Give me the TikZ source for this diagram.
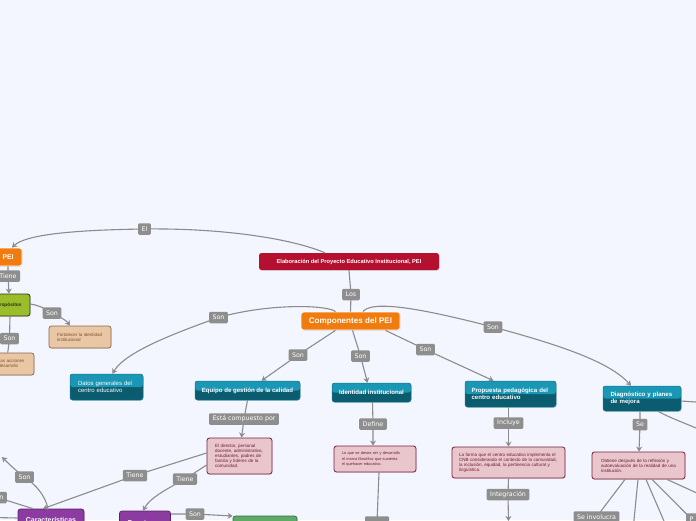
\documentclass[tikz,border=0pt]{standalone}
\usepackage{fontspec}
\setmainfont{Liberation Sans}
\newfontfamily\lblfont{DejaVu Sans}
\usetikzlibrary{arrows.meta,shadows}
\definecolor{bgc}{HTML}{F3F6FE}
\definecolor{lineg}{HTML}{8C8C8C}
\definecolor{lblg}{HTML}{8E8E8E}
\definecolor{rootc}{HTML}{B5102F}
\definecolor{orangec}{HTML}{F07B0E}
\definecolor{olivec}{HTML}{9BBD2C}
\definecolor{olived}{HTML}{2A3510}
\definecolor{tanf}{HTML}{E9C6A4}
\definecolor{tand}{HTML}{8B6A4C}
\definecolor{tant}{HTML}{7A5232}
\definecolor{tealtop}{HTML}{1A97B5}
\definecolor{tealbot}{HTML}{0B5C6F}
\definecolor{tealbd}{HTML}{127A92}
\definecolor{pinkf}{HTML}{E9C6CB}
\definecolor{pinkd}{HTML}{7A1D3B}
\definecolor{pinkt}{HTML}{6E1A36}
\definecolor{purplec}{HTML}{8C3CA0}
\definecolor{purpled}{HTML}{5A1E6B}
\definecolor{greenc}{HTML}{5FAA69}
\definecolor{greend}{HTML}{32703C}
\tikzset{
  conn/.style={draw=lineg, line width=1.1pt},
  arr/.style={-{Stealth[length=5pt,width=6pt]}},
  lbl/.style={fill=lblg, rounded corners=1.2pt, text=white, font=\lblfont\fontsize{6.3}{7}\selectfont, inner xsep=3.5pt, inner ysep=0pt, minimum height=11.5pt},
  box/.style={rounded corners=2.5pt, inner sep=0pt, drop shadow={shadow xshift=0.5pt, shadow yshift=-0.8pt, opacity=0.22}},
  tealb/.style={box, fill=tealbot, draw=tealbd, line width=0.5pt, text=white,
    font=\bfseries\fontsize{6.1}{7.4}\selectfont,
    path picture={\fill[tealtop] (path picture bounding box.north west) rectangle (path picture bounding box.east);}},
  pinkb/.style={box, fill=pinkf, draw=pinkd, line width=0.8pt, text=pinkt, align=left, font=\fontsize{4.5}{5.1}\selectfont},
  tanb/.style={box, fill=tanf, draw=tand, line width=0.7pt, text=tant, align=left, font=\fontsize{4.5}{5.1}\selectfont},
  orangeb/.style={box, fill=orangec, draw=white, line width=0.8pt, text=white},
  purpleb/.style={box, fill=purplec, draw=purpled, line width=0.7pt, text=white, font=\bfseries\fontsize{7}{8}\selectfont},
}
\begin{document}
\begin{tikzpicture}[x=1pt,y=-1pt]
\useasboundingbox (0,0) rectangle (696,520);
\fill[bgc] (0,0) rectangle (696,520);
\begin{scope}
\clip (0,0) rectangle (696,520);

% ---- boxes ----
\node[box, fill=rootc, text=white, font=\bfseries\fontsize{5.7}{7}\selectfont, minimum width=180pt, minimum height=17pt] (root) at (349,261.5) {Elaboración del Proyecto Educativo Institucional, PEI};
\node[orangeb, font=\bfseries\fontsize{8.1}{9}\selectfont, minimum width=99pt, minimum height=18pt] (comp) at (350.5,321) {Componentes del PEI};
\node[orangeb, font=\bfseries\fontsize{6.8}{8}\selectfont, minimum width=28pt, minimum height=18pt] (pei) at (8,257) {PEI};
\node[box, fill=olivec, draw=olived, line width=0.8pt, text=olived, font=\bfseries\fontsize{4.8}{6}\selectfont, minimum width=42pt, minimum height=22pt] (prop) at (9,305) {Propósitos};
\node[tanb, minimum width=62pt, minimum height=22pt, text width=46pt, inner xsep=8pt] (fort) at (80,337) {Fortalecer la identidad\\institucional};
\node[tanb, minimum width=60.5pt, minimum height=22pt, text width=44.5pt, inner xsep=8pt] (acc) at (3.75,364) {Orientar las acciones\\para su desarrollo};

\node[tealb, font=\fontsize{6}{7.2}\selectfont, align=left, minimum width=73pt, minimum height=26pt, text width=57pt, inner xsep=8pt] (datos) at (106.5,387) {Datos generales del\\centro educativo};
\node[tealb, minimum width=105pt, minimum height=19pt] (equipo) at (247.5,390.5) {Equipo de gestión de la calidad};
\node[tealb, minimum width=79pt, minimum height=19pt] (ident) at (371.5,392.5) {Identidad institucional};
\node[tealb, align=left, minimum width=91pt, minimum height=26pt, text width=78pt, inner xsep=6.5pt] (propu) at (510.5,394) {Propuesta pedagógica del\\centro educativo};
\node[tealb, align=left, minimum width=78pt, minimum height=25pt, text width=63pt, inner xsep=7.5pt] (diag) at (642,398.5) {Diagnóstico y planes\\de mejora};

\node[pinkb, minimum width=65pt, minimum height=36pt, text width=49pt, inner xsep=8pt] (pk1) at (239.5,456) {El director, personal\\docente, administrativo,\\estudiantes, padres de\\familia y líderes de la\\comunidad.};
\node[pinkb, font=\fontsize{3.9}{5.1}\selectfont, minimum width=82pt, minimum height=26pt, text width=66pt, inner xsep=8pt] (pk2) at (375,459) {Lo que se desea ser y desarrolla\\el marco filosófico que sustenta\\el quehacer educativo.};
\node[pinkb, minimum width=113pt, minimum height=31pt, text width=99pt, inner xsep=7pt] (pk3) at (508.5,462.5) {La forma que el centro educativo implementa el\\CNB considerando el contexto de la comunidad,\\la inclusión, equidad, la pertinencia cultural y\\lingüística.};
\node[pinkb, minimum width=93pt, minimum height=27pt, text width=75pt, inner xsep=9pt] (pk4) at (638.5,465.5) {Obtiene después de la reflexión y\\autoevaluación de la realidad de una\\institución.};

\node[purpleb, minimum width=66pt, minimum height=22pt] (caract) at (51,520) {Características};
\node[purpleb, minimum width=51pt, minimum height=23pt] (func) at (145,522.5) {Funciones};
\node[box, fill=greenc, draw=greend, line width=0.7pt, minimum width=64pt, minimum height=22pt] (green) at (265,527) {};

% ---- label positions ----
\coordinate (lEl) at (144.5,229);
\coordinate (lLos) at (351,294.5);
\coordinate (lSonD) at (218.5,317.5);
\coordinate (lSonG) at (493,327);
\coordinate (lSonE) at (298,355);
\coordinate (lSonI) at (360.5,356);
\coordinate (lSonP) at (425.5,349.5);
\coordinate (lEsta) at (244,419);
\coordinate (lDef) at (373,424);
\coordinate (lInc) at (508.5,423);
\coordinate (lInt) at (508,494.5);
\coordinate (lSe) at (640,424.5);
\coordinate (lTP) at (8,276);
\coordinate (lSPr) at (52,313);
\coordinate (lSPd) at (9.5,338.5);
\coordinate (lT1) at (135,475.5);
\coordinate (lT2) at (185,479);
\coordinate (lSF) at (195,514);
\coordinate (lSC) at (24.5,477);
\coordinate (lnC) at (-2.5,497.5);
\coordinate (lSeI) at (596.5,517);
\coordinate (lP) at (691.5,519);
\coordinate (lGr) at (377,522);
% free ends
\coordinate (eInt) at (508.5,521);
\coordinate (eSC) at (2,457);
\coordinate (eL) at (-6,517.5);
\coordinate (e1) at (633,530);
\coordinate (e2) at (670,535);
\coordinate (e3) at (710,499);
\coordinate (e4) at (710,403);
\coordinate (e5) at (710,434);

% ---- connectors ----
\draw[conn,arr] ([xshift=-24pt]root.north) .. controls (290,238) and (220,228) .. (lEl) .. controls (70,230) and (25,235) .. ([xshift=4pt]pei.north);
\draw[conn] (root.south) -- (lLos) -- (comp.north);
\draw[conn,arr] ([xshift=-15pt]comp.north) .. controls (328,305) and (270,303) .. (lSonD) .. controls (175,333) and (125,352) .. ([xshift=6pt]datos.north);
\draw[conn,arr] ([xshift=12.5pt]comp.north) .. controls (372,300) and (420,308) .. (lSonG) .. controls (560,345) and (610,362) .. ([xshift=-11pt]diag.north);
\draw[conn,arr] ([xshift=-15pt]comp.south) -- (lSonE) -- ([xshift=14pt]equipo.north);
\draw[conn,arr] ([xshift=2pt]comp.south) -- (lSonI) -- ([xshift=-4pt]ident.north);
\draw[conn,arr] ([xshift=35pt]comp.south) -- (lSonP) -- ([xshift=-17pt]propu.north);
\draw[conn,arr] (equipo.south) -- (lEsta) -- ([xshift=2pt]pk1.north);
\draw[conn,arr] ([xshift=1pt]ident.south) -- (lDef) -- ([xshift=-2pt]pk2.north);
\draw[conn,arr] ([xshift=-2pt]propu.south) -- (lInc) -- (pk3.north);
\draw[conn,arr] (pk3.south) -- (lInt) -- (eInt);
\draw[conn,arr] ([xshift=-2pt]diag.south) -- (lSe) -- ([xshift=0.5pt]pk4.north);
\draw[conn] ([xshift=-13.5pt]pk4.south) -- (lSeI);
\draw[conn] ([xshift=-0.5pt]pk4.south) -- (e1);
\draw[conn] ([xshift=7.5pt]pk4.south) -- (e2);
\draw[conn] ([xshift=13.5pt]pk4.south) -- (lP);
\draw[conn] ([xshift=28.5pt]pk4.south) -- (e3);
\draw[conn] ([yshift=-2.5pt]diag.east) -- (e4);
\draw[conn] ([xshift=16pt]diag.south) .. controls (670,418) and (685,423) .. (e5);
\draw[conn] ([xshift=4pt]pk2.south) -- (lGr);
\draw[conn,arr] ([yshift=3pt]pk1.west) -- (lT1) -- ([xshift=-8pt]caract.north);
\draw[conn,arr] ([yshift=-9pt]pk1.west) -- (lT2) .. controls (165,490) and (150,498) .. ([xshift=-2pt]func.north);
\draw[conn,arr] ([yshift=8.5pt]func.east) -- (lSF) -- ([yshift=11pt]green.west);
\draw[conn,arr] ([xshift=-3pt]caract.north) .. controls (45,495) and (36,485) .. (lSC) .. controls (15,470) and (8,463) .. (eSC);
\draw[conn] (lnC) -- ([xshift=-18pt]caract.north);
\draw[conn] (eL) -- ([yshift=2pt]caract.west);
\draw[conn,arr] (pei.south) -- (lTP) -- (prop.north);
\draw[conn,arr] ([yshift=1pt]prop.east) .. controls (38,305) and (44,308) .. (lSPr) .. controls (60,317) and (66,320) .. ([xshift=-10pt]fort.north);
\draw[conn] ([xshift=1pt]prop.south) -- (lSPd) -- ([xshift=4pt]acc.north);

% ---- labels ----
\node[lbl] (nEl) at (lEl) {El};
\node[lbl] (nLos) at (lLos) {Los};
\node[lbl] (nSonD) at (lSonD) {Son};
\node[lbl] (nSonG) at (lSonG) {Son};
\node[lbl] (nSonE) at (lSonE) {Son};
\node[lbl] (nSonI) at (lSonI) {Son};
\node[lbl] (nSonP) at (lSonP) {Son};
\node[lbl] (nEsta) at (lEsta) {Está compuesto por};
\node[lbl] (nDef) at (lDef) {Define};
\node[lbl] (nInc) at (lInc) {Incluye};
\node[lbl] (nInt) at (lInt) {Integración};
\node[lbl] (nSe) at (lSe) {Se};
\node[lbl] (nTP) at (lTP) {Tiene};
\node[lbl] (nSPr) at (lSPr) {Son};
\node[lbl] (nSPd) at (lSPd) {Son};
\node[lbl] (nT1) at (lT1) {Tiene};
\node[lbl] (nT2) at (lT2) {Tiene};
\node[lbl] (nSF) at (lSF) {Son};
\node[lbl] (nSC) at (lSC) {Son};
\node[lbl] (nnC) at (lnC) {Son};
\node[lbl] (nSeI) at (lSeI) {Se involucra};
\node[lbl] (nP) at (lP) {P};
\node[lbl, minimum width=24pt] (nGr) at (lGr) {};
\end{scope}
\end{tikzpicture}
\end{document}
